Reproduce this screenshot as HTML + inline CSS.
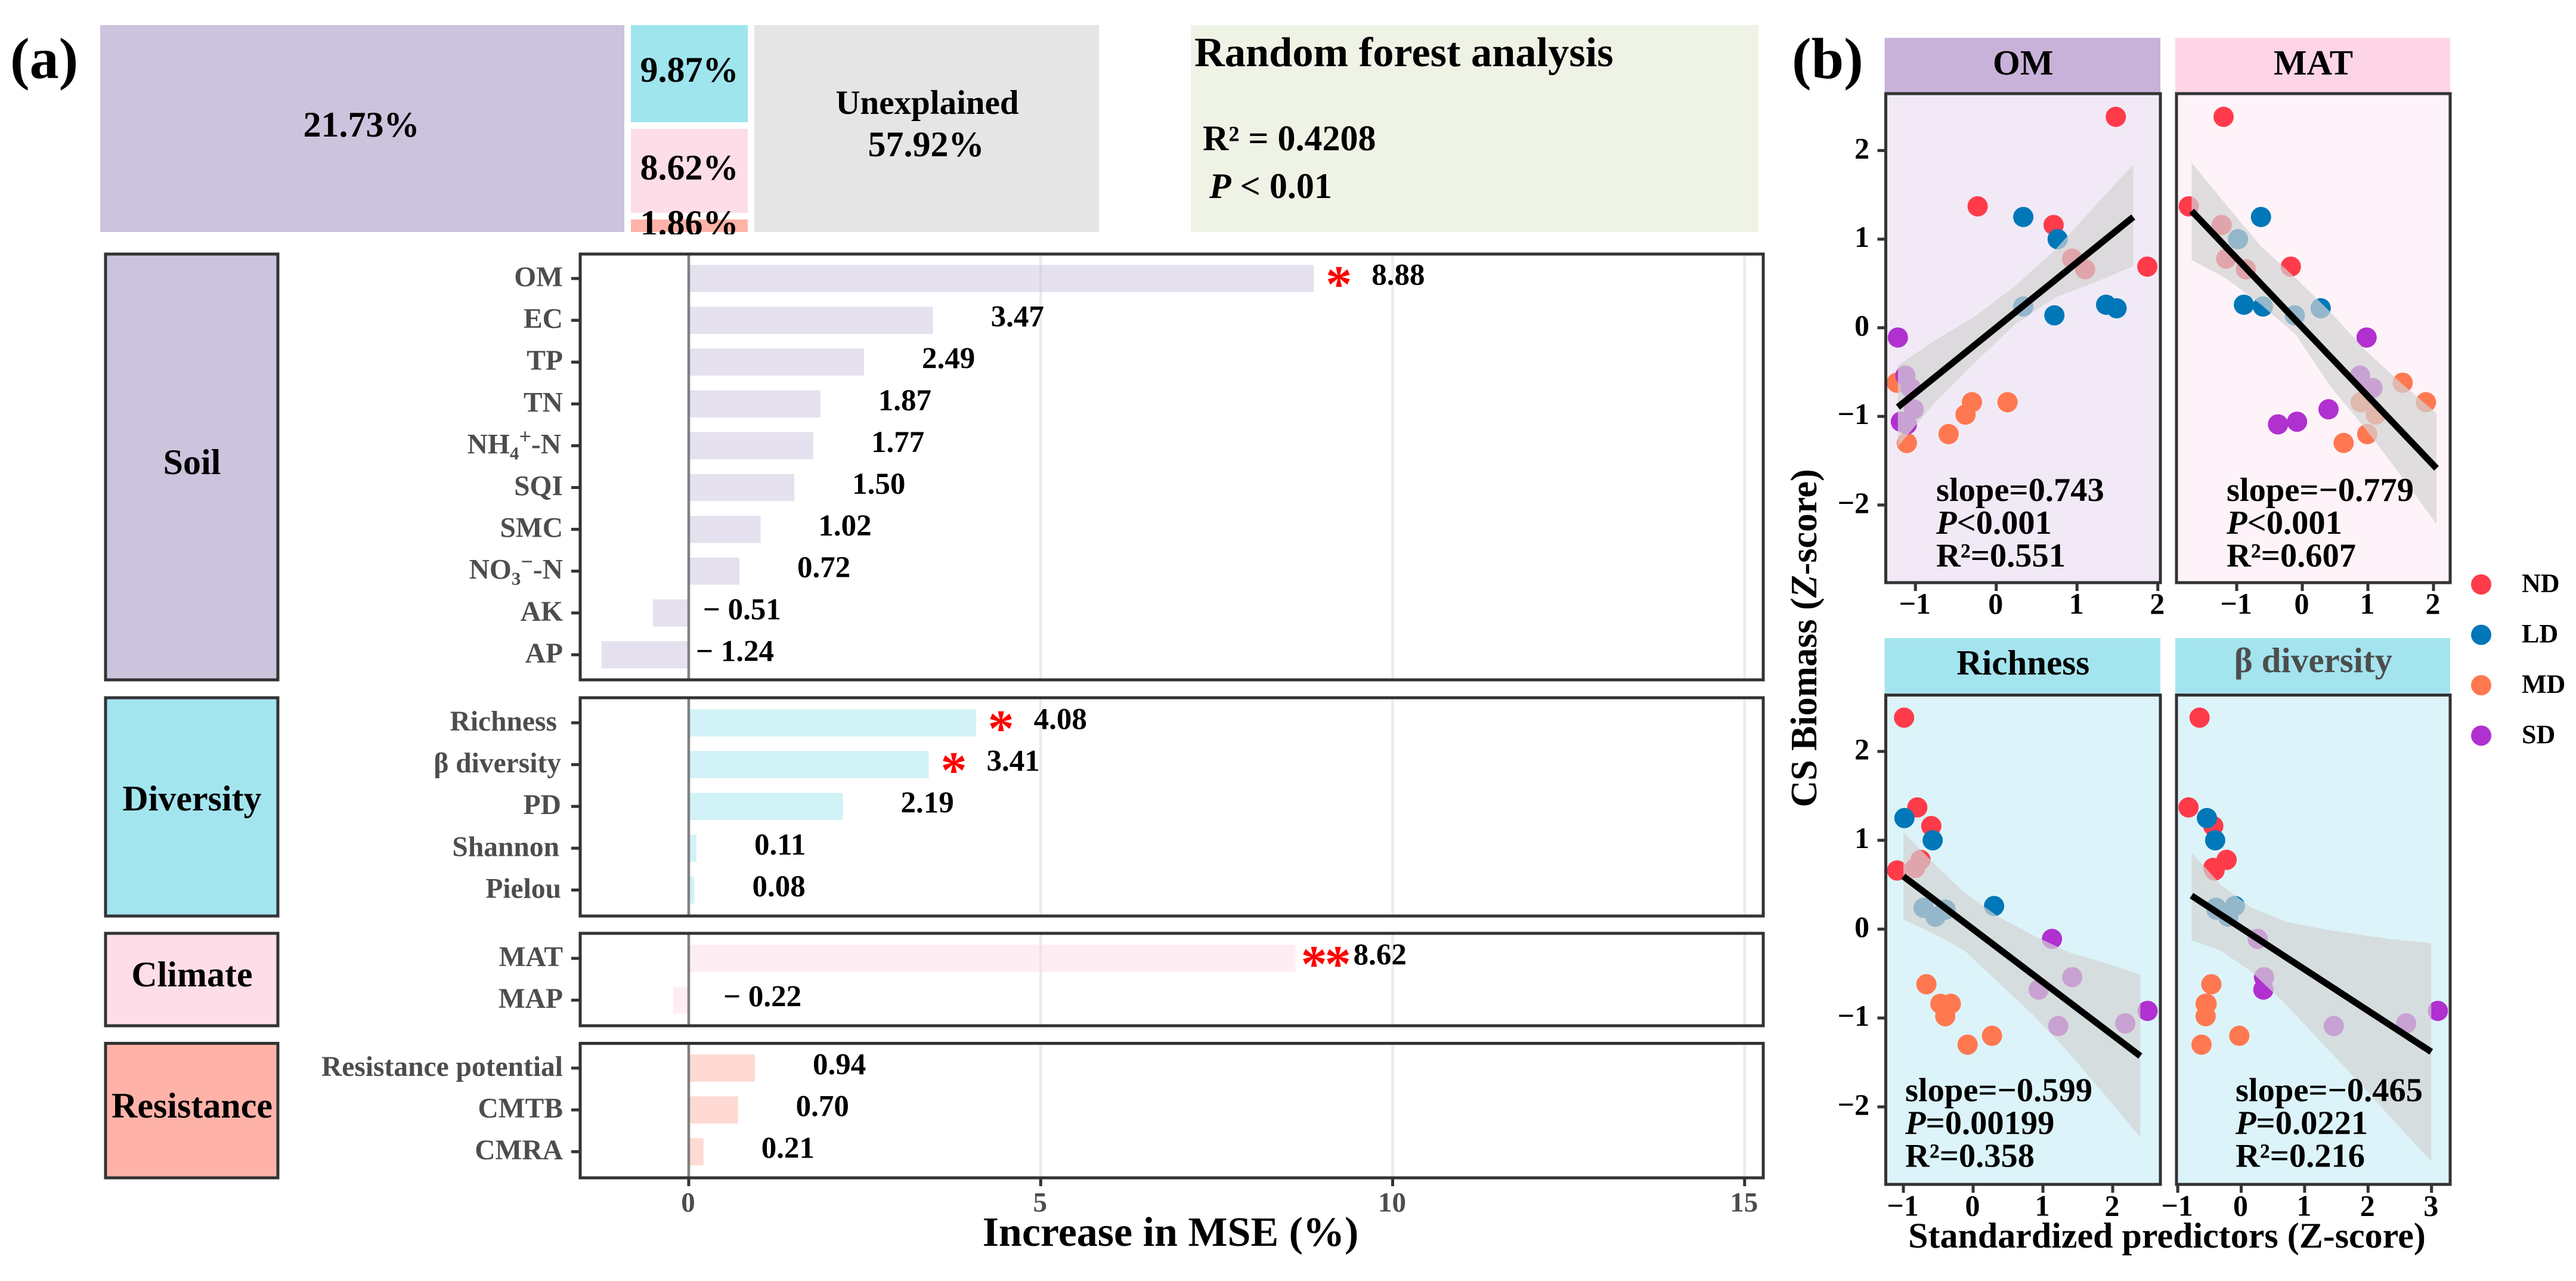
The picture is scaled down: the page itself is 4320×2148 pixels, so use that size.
<!DOCTYPE html>
<html lang="en">
<head>
<meta charset="utf-8">
<title>Random forest analysis and standardized regressions</title>
<style>
html,body{margin:0;padding:0;background:#fff;width:4320px;height:2148px;overflow:hidden}
svg{display:block}
text{font-family:"Liberation Serif","Noto Serif CJK SC",serif;font-weight:bold;fill:#000}
</style>
</head>
<body>
<svg id="figure" xmlns="http://www.w3.org/2000/svg" width="4320" height="2148" viewBox="0 0 4320 2148">
  <rect x="0" y="0" width="4320" height="2148" fill="#fff"/>
  <defs><clipPath id="tile-clip"><rect x="1058" y="340" width="196" height="53"/></clipPath></defs>

  <g>
    <text x="17" y="131" font-size="98">(a)</text>
    <rect x="168" y="42" width="879" height="347" fill="#ccc3dd"/>
    <rect x="1058" y="42" width="196" height="163" fill="#9fe5ee"/>
    <rect x="1058" y="216" width="196" height="141" fill="#fddde8"/>
    <rect x="1058" y="368" width="196" height="21" fill="#ffb3a8"/>
    <rect x="1265" y="42" width="578" height="347" fill="#e5e5e5"/>
    <text x="606" y="229" font-size="60" text-anchor="middle">21.73%</text>
    <text x="1156" y="137" font-size="60" text-anchor="middle">9.87%</text>
    <text x="1156" y="301" font-size="60" text-anchor="middle">8.62%</text>
    <text x="1156" y="394" font-size="60" text-anchor="middle" clip-path="url(#tile-clip)">1.86%</text>
    <text x="1555" y="191" font-size="57" text-anchor="middle">Unexplained</text>
    <text x="1553" y="262" font-size="60" text-anchor="middle">57.92%</text>
    <rect x="1997" y="42" width="952" height="347" fill="#eef3e6"/>
    <text x="2003" y="111" font-size="70.4">Random forest analysis</text>
    <text x="2017" y="252" font-size="60">R² = 0.4208</text>
    <text x="2028" y="332" font-size="60"><tspan font-style="italic">P</tspan> &lt; 0.01</text>
  </g>

  <g id="bar-chart"></g>
  <text x="1963" y="2089" font-size="70" text-anchor="middle">Increase in MSE (%)</text>

  <text x="3005" y="131" font-size="98">(b)</text>
  <g id="facets"></g>
  <text x="3046" y="1070" font-size="62" text-anchor="middle" transform="rotate(-90 3046 1070)">CS Biomass (<tspan font-style="italic">Z</tspan>-score)</text>
  <text x="3634" y="2092" font-size="60" text-anchor="middle">Standardized predictors (Z-score)</text>
  <g id="legend"></g>
</svg>

<script>
// ---------- Panel (a): random forest importance ----------
const soilCategories = ['OM','EC','TP','TN','NH4+-N','SQI','SMC','NO3−-N','AK','AP'];
const soilValues = [8.88,3.47,2.49,1.87,1.77,1.50,1.02,0.72,-0.51,-1.24];
const soilStars = ['*','','','','','','','','',''];
const diversityCategories = ['Richness','β diversity','PD','Shannon','Pielou'];
const diversityValues = [4.08,3.41,2.19,0.11,0.08];
const diversityStars = ['*','*','','',''];
const climateCategories = ['MAT','MAP'];
const climateValues = [8.62,-0.22];
const climateStars = ['**',''];
const resistanceCategories = ['Resistance potential','CMTB','CMRA'];
const resistanceValues = [0.94,0.70,0.21];
const resistanceStars = ['','',''];
const importanceTicks = [0,5,10,15];

// ---------- Panel (b): standardized regressions ----------
const sampleGroups = ['ND','ND','ND','ND','ND','ND','LD','LD','LD','LD','LD','LD','MD','MD','MD','MD','MD','MD','SD','SD','SD','SD','SD','SD'];
const csBiomass = [2.38,1.37,1.16,0.69,0.78,0.66, 1.25,1.0,0.24,0.14,0.26,0.22, -0.62,-0.84,-0.98,-0.84,-1.2,-1.3, -0.11,-0.54,-0.68,-0.92,-1.06,-1.09];
const omValues = [1.48,-0.23,0.71,1.87,0.94,1.10, 0.335,0.76,0.335,0.72,1.36,1.49, -1.23,-0.30,-0.38,0.14,-0.59,-1.106, -1.217,-1.124,-1.056,-1.02,-1.18,-1.106];
const matValues = [-1.2,-1.73,-1.23,-0.175,-1.16,-0.86, -0.63,-0.98,-0.60,-0.115,-0.89,0.28, 1.53,0.89,1.12,1.885,0.99,0.63, 0.98,0.88,1.07,0.40,-0.08,-0.37];
const richnessValues = [-0.99,-0.80,-0.60,-0.83,-0.755,-1.09, -0.985,-0.58,-0.71,-0.54,0.30,-0.395, -0.67,-0.47,-0.40,-0.32,0.27,-0.08, 1.13,1.42,0.94,2.50,2.18,1.22];
const betaValues = [-0.656,-0.83,-0.44,-0.44,-0.23,-0.42, -0.54,-0.41,-0.395,-0.205,-0.10,-0.39, -0.47,-0.56,-0.56,-0.545,-0.03,-0.625, 0.26,0.36,0.35,3.10,2.60,1.46];

const omLineX = [-1.217,1.696];
const omLineY = [-0.895,1.25];
const omRibbonX = [-1.217,-0.764,-0.267,0.23,0.727,1.224,1.696];
const omRibbonUpper = [-0.427,-0.145,0.127,0.468,0.877,1.377,1.84];
const omRibbonLower = [-1.34,-0.85,-0.395,0.036,0.34,0.514,0.695];

const matLineX = [-1.687,2.046];
const matLineY = [1.318,-1.586];
const matRibbonX = [-1.687,-1.168,-0.634,-0.099,0.435,0.969,1.504,2.046];
const matRibbonUpper = [1.864,1.395,0.923,0.559,0.173,-0.259,-0.623,-0.964];
const matRibbonLower = [0.764,0.559,0.264,-0.077,-0.668,-1.145,-1.668,-2.214];

const richnessLineX = [-1.0,2.396];
const richnessLineY = [0.595,-1.428];
const richnessRibbonX = [-1.0,-0.554,-0.123,0.381,0.885,1.388,1.892,2.396];
const richnessRibbonUpper = [1.093,0.735,0.409,0.13,-0.079,-0.265,-0.381,-0.512];
const richnessRibbonLower = [0.107,-0.056,-0.242,-0.614,-0.986,-1.405,-1.87,-2.344];

const betaLineX = [-0.783,2.996];
const betaLineY = [0.377,-1.381];
const betaRibbonX = [-0.783,-0.324,0.150,0.704,1.257,1.810,2.364,2.996];
const betaRibbonUpper = [0.865,0.502,0.247,0.084,0.005,-0.056,-0.112,-0.158];
const betaRibbonLower = [-0.126,-0.242,-0.474,-0.847,-1.27,-1.688,-2.126,-2.614];

const yTickValues = [-2,-1,0,1,2];
const omTickValues = [-1,0,1,2];
const matTickValues = [-1,0,1,2];
const richnessTickValues = [-1,0,1,2];
const betaTickValues = [-1,0,1,2,3];
const legendGroups = ['ND','LD','MD','SD'];

const NS = 'http://www.w3.org/2000/svg';
const INK = '#333333';
const GREY_TEXT = '#4d4d4d';
const groupColor = {ND:'#ff3b4a', LD:'#0077b8', MD:'#ff7850', SD:'#b030d0'};

function make(tag, parent, props) {
  const node = document.createElementNS(NS, tag);
  for (const key in props) node.setAttribute(key, props[key]);
  parent.appendChild(node);
  return node;
}
function minusText(v) { return String(v).replace('-', '−'); }

// ---- importance chart axis functions ----
const barRoot = document.getElementById('bar-chart');
const PANEL_LEFT = 973, PANEL_RIGHT = 2957;
function importanceX(v) { return 1155 + v * 118.05; }
function categoryLabelRight(name) {
  if (name === 'Richness') return 934;
  if (name === 'Shannon') return 938;
  if (name === 'Pielou') return 941;
  if (name === 'β diversity' || name === 'PD' || name === 'NH4+-N') return 941;
  return 944;
}
const ROW_STEP = 70.1, BAR_H = 45.5;

const barSections = [
  {key:'soil', title:'Soil', color:'#ccc3dd', top:426, bottom:1140, first:467, titleY:795, cats:soilCategories, vals:soilValues, stars:soilStars},
  {key:'diversity', title:'Diversity', color:'#a3e5ef', top:1170, bottom:1536, first:1212, titleY:1359, cats:diversityCategories, vals:diversityValues, stars:diversityStars},
  {key:'climate', title:'Climate', color:'#fddde8', top:1565, bottom:1720, first:1607, titleY:1654, cats:climateCategories, vals:climateValues, stars:climateStars},
  {key:'resistance', title:'Resistance', color:'#ffb3a8', top:1749.5, bottom:1975, first:1791, titleY:1874, cats:resistanceCategories, vals:resistanceValues, stars:resistanceStars}
];

function appendCategoryText(textEl, label) {
  const m = label.match(/^(N[HO])(\d)([+−])(-N)$/);
  if (!m) { textEl.textContent = label; return; }
  make('tspan', textEl, {}).textContent = m[1];
  make('tspan', textEl, {dy:10, 'font-size':31}).textContent = m[2];
  make('tspan', textEl, {dy:-27, 'font-size':36}).textContent = m[3];
  make('tspan', textEl, {dy:17}).textContent = m[4];
}

barSections.forEach(function (sec) {
  const strip = make('rect', barRoot, {x:177, y:sec.top, width:289, height:sec.bottom - sec.top, fill:sec.color, stroke:INK, 'stroke-width':5});
  
  

  const stripText = make('text', barRoot, {x:322, y:sec.titleY, 'font-size':60, 'text-anchor':'middle'});
  
  
  stripText.textContent = sec.title;

  importanceTicks.forEach(function (t) {
    if (t === 0) return;
    const grid = make('line', barRoot, {x1:importanceX(t), x2:importanceX(t), y1:sec.top, y2:sec.bottom, stroke:'#ebebeb', 'stroke-width':4.5});
    
    
  });

  sec.vals.forEach(function (v, i) {
    const cy = sec.first + i * ROW_STEP;
    const x0 = importanceX(0), x1 = importanceX(v);

    const bar = make('rect', barRoot, {x:Math.min(x0, x1), y:cy - BAR_H / 2, width:Math.abs(x1 - x0), height:BAR_H, fill:sec.color, 'fill-opacity':0.5});
    
    

    const tick = make('line', barRoot, {x1:958, x2:PANEL_LEFT, y1:cy, y2:cy, stroke:INK, 'stroke-width':5});
    
    

    const cat = make('text', barRoot, {x:categoryLabelRight(sec.cats[i]), y:cy + 13, 'font-size':47.5, 'text-anchor':'end', style:'fill:' + GREY_TEXT});
    
    
    appendCategoryText(cat, sec.cats[i]);

    const labelX = v >= 0 ? x1 + 97 : Math.max(x1 + 84, 1167);
    const valueText = v >= 0 ? v.toFixed(2) : '− ' + Math.abs(v).toFixed(2);
    const val = make('text', barRoot, {x:labelX, y:cy + 10.5, 'font-size':51});
    
    
    val.textContent = valueText;

    if (sec.stars[i]) {
      const star = make('text', barRoot, {x:x1 + (sec.stars[i].length > 1 ? 9 : 20), y:cy + 39, 'font-size':88, 'letter-spacing':sec.stars[i].length > 1 ? -4 : 0, style:'fill:#ff0000'});
      
      
      star.textContent = sec.stars[i];
    }
  });

  const zero = make('line', barRoot, {x1:importanceX(0), x2:importanceX(0), y1:sec.top, y2:sec.bottom, stroke:'#808080', 'stroke-width':4.5});
  
  

  const frame = make('rect', barRoot, {x:PANEL_LEFT, y:sec.top, width:PANEL_RIGHT - PANEL_LEFT, height:sec.bottom - sec.top, fill:'none', stroke:INK, 'stroke-width':5});
  
  
});

importanceTicks.forEach(function (t) {
  const tick = make('line', barRoot, {x1:importanceX(t), x2:importanceX(t), y1:1975, y2:1989, stroke:INK, 'stroke-width':5});
  
  

  const lab = make('text', barRoot, {x:importanceX(t) - 1, y:2031.5, 'font-size':47, 'text-anchor':'middle', style:'fill:' + GREY_TEXT});
  
  
  lab.textContent = String(t);
});

// ---- regression facets ----
const facetRoot = document.getElementById('facets');
const rows = {
  top: {strip:[63.5,155], top:157, bottom:977, y0:549.6, unit:148.6, tickLabelY:1029},
  bottom: {strip:[1070,1164], top:1165.5, bottom:1986, y0:1558, unit:149, tickLabelY:2038.5}
};
const facets = [
  {key:'OM', title:'OM', row:'top', left:3162.5, right:3623, strip:'#c9b2da', bg:'#f1eaf6', titleColor:'#000', titleY:125, x0:3347.7, xUnit:135.5,
   xs:omValues, ticks:omTickValues, lineX:omLineX, lineY:omLineY, ribX:omRibbonX, ribU:omRibbonUpper, ribL:omRibbonLower,
   statX:3247, stats:['slope=0.743','<0.001','R²=0.551'], yAxis:true},
  {key:'MAT', title:'MAT', row:'top', left:3650, right:4109, strip:'#fdd5e6', bg:'#fef3f8', titleColor:'#000', titleY:125, x0:3861, xUnit:110,
   xs:matValues, ticks:matTickValues, lineX:matLineX, lineY:matLineY, ribX:matRibbonX, ribU:matRibbonUpper, ribL:matRibbonLower,
   statX:3734, stats:['slope=−0.779','<0.001','R²=0.607'], yAxis:false},
  {key:'Richness', title:'Richness', row:'bottom', left:3162.5, right:3623, strip:'#a4e4ee', bg:'#dcf4f9', titleColor:'#000', titleY:1131, x0:3309, xUnit:117,
   xs:richnessValues, ticks:richnessTickValues, lineX:richnessLineX, lineY:richnessLineY, ribX:richnessRibbonX, ribU:richnessRibbonUpper, ribL:richnessRibbonLower,
   statX:3195, stats:['slope=−0.599','=0.00199','R²=0.358'], yAxis:true},
  {key:'beta-diversity', title:'β diversity', row:'bottom', left:3650, right:4109, strip:'#a4e4ee', bg:'#dcf4f9', titleColor:GREY_TEXT, titleY:1127, x0:3758.5, xUnit:106.4,
   xs:betaValues, ticks:betaTickValues, lineX:betaLineX, lineY:betaLineY, ribX:betaRibbonX, ribU:betaRibbonUpper, ribL:betaRibbonLower,
   statX:3749, stats:['slope=−0.465','=0.0221','R²=0.216'], yAxis:false}
];

facets.forEach(function (f) {
  const r = rows[f.row];
  const xScale = function (v) { return f.x0 + v * f.xUnit; };
  const yScale = function (v) { return r.y0 - v * r.unit; };

  const strip = make('rect', facetRoot, {x:f.left - 2, y:r.strip[0], width:f.right - f.left + 2, height:r.strip[1] - r.strip[0], fill:f.strip});
  
  

  const title = make('text', facetRoot, {x:(f.left + f.right) / 2, y:f.titleY, 'font-size':59, 'text-anchor':'middle', style:'fill:' + f.titleColor});
  
  
  title.textContent = f.title;

  const bg = make('rect', facetRoot, {x:f.left, y:r.top, width:f.right - f.left, height:r.bottom - r.top, fill:f.bg});
  
  

  f.xs.forEach(function (v, i) {
    const dot = make('circle', facetRoot, {cx:xScale(v), cy:yScale(csBiomass[i]), r:17, fill:groupColor[sampleGroups[i]]});
    
    
  });

  const upperPts = f.ribX.map(function (x, i) { return xScale(x) + ',' + yScale(f.ribU[i]); });
  const lowerPts = f.ribX.map(function (x, i) { return xScale(x) + ',' + yScale(f.ribL[i]); }).reverse();
  const ribbon = make('polygon', facetRoot, {points:upperPts.concat(lowerPts).join(' '), fill:'#d3d3d3', 'fill-opacity':0.7});
  
  

  const fit = make('line', facetRoot, {x1:xScale(f.lineX[0]), y1:yScale(f.lineY[0]), x2:xScale(f.lineX[1]), y2:yScale(f.lineY[1]), stroke:'#000', 'stroke-width':11});
  
  

  const frame = make('rect', facetRoot, {x:f.left, y:r.top, width:f.right - f.left, height:r.bottom - r.top, fill:'none', stroke:INK, 'stroke-width':5});
  
  

  f.ticks.forEach(function (t) {
    const tick = make('line', facetRoot, {x1:xScale(t), x2:xScale(t), y1:r.bottom, y2:r.bottom + 14, stroke:INK, 'stroke-width':5});
    
    

    const lab = make('text', facetRoot, {x:xScale(t) - 1, y:r.tickLabelY, 'font-size':50, 'text-anchor':'middle'});
    
    
    lab.textContent = minusText(t);
  });

  if (f.yAxis) {
    yTickValues.forEach(function (t) {
      const tick = make('line', facetRoot, {x1:f.left - 14, x2:f.left, y1:yScale(t), y2:yScale(t), stroke:INK, 'stroke-width':5});
      
      

      const lab = make('text', facetRoot, {x:3135, y:yScale(t) + 13, 'font-size':50, 'text-anchor':'end'});
      
      
      lab.textContent = minusText(t);
    });
  }

  const statBase = f.row === 'top' ? 840 : 1846.5;
  const slope = make('text', facetRoot, {x:f.statX, y:statBase, 'font-size':56.5});
  
  
  slope.textContent = f.stats[0];

  const pval = make('text', facetRoot, {x:f.statX, y:statBase + 55, 'font-size':56.5});
  
  
  make('tspan', pval, {'font-style':'italic'}).textContent = 'P';
  make('tspan', pval, {}).textContent = f.stats[1];

  const rsq = make('text', facetRoot, {x:f.statX, y:statBase + 110, 'font-size':56.5});
  
  
  rsq.textContent = f.stats[2];
});

// ---- legend ----
const legendRoot = document.getElementById('legend');
legendGroups.forEach(function (g, i) {
  const cy = 980 + i * 84.5;
  const key = make('circle', legendRoot, {cx:4161, cy:cy, r:17, fill:groupColor[g]});
  
  

  const lab = make('text', legendRoot, {x:4229, y:cy + 12.5, 'font-size':44});
  
  
  lab.textContent = g;
});
</script>
</body>
</html>
